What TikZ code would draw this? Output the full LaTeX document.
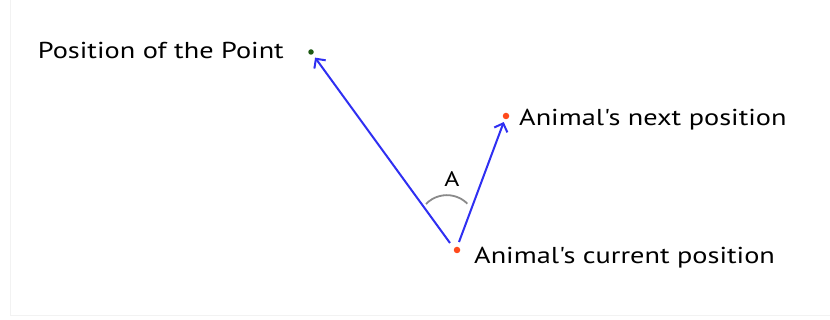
\documentclass[tikz,border=0pt]{standalone}
\usepackage{fontspec}
\setmainfont[FakeStretch=1.23, Ligatures=TeXOff]{PT Sans}
\usetikzlibrary{arrows.meta}
\definecolor{arrblue}{HTML}{2F2FF2}
\definecolor{dotred}{HTML}{FF4A1C}
\definecolor{dotgreen}{HTML}{1E5A14}
\definecolor{arcgray}{HTML}{8A8A8A}
\tikzset{
  lbl/.style={font=\fontsize{23}{26}\selectfont, inner sep=0pt, text=black},
  dot/.style={circle, fill=#1, inner sep=0pt, minimum size=6.5pt},
  arr/.style={draw=arrblue, line width=2pt, -{Straight Barb[length=7pt,width=14pt,line width=2pt]}},
}
\begin{document}
\begin{tikzpicture}[x=1pt,y=1pt]
\useasboundingbox (0,0) rectangle (830,320);
\fill[white] (0,0) rectangle (830,320);
\draw[black!5, line width=1pt] (10,320) -- (10,4) -- (830,4);
% dots
\node[dot=dotgreen, minimum size=5.5pt] (pt) at (311,268) {};
\node[dot=dotred] (nxt) at (506,204) {};
\node[dot=dotred] (cur) at (457,70) {};
% labels
\node[lbl, anchor=base east] (lpt) at (284,261) {Position of the Point};
\node[lbl, anchor=base west] (lnxt) at (519,194) {Animal's next position};
\node[lbl, anchor=base west] (lcur) at (474,56) {Animal's current position};
% arrows
\coordinate (c1) at (450,77);
\coordinate (c2) at (459,78);
\draw[arr, shorten >=4pt] (c1) -- (pt);
\draw[arr, shorten >=3pt] (c2) -- (nxt);
% angle
\draw[arcgray, line width=1.8pt] (426,116) arc[start angle=136, end angle=45, radius=29];
\node[lbl, font=\fontsize{21}{24}\selectfont] (A) at (452,141) {A};
\end{tikzpicture}
\end{document}
